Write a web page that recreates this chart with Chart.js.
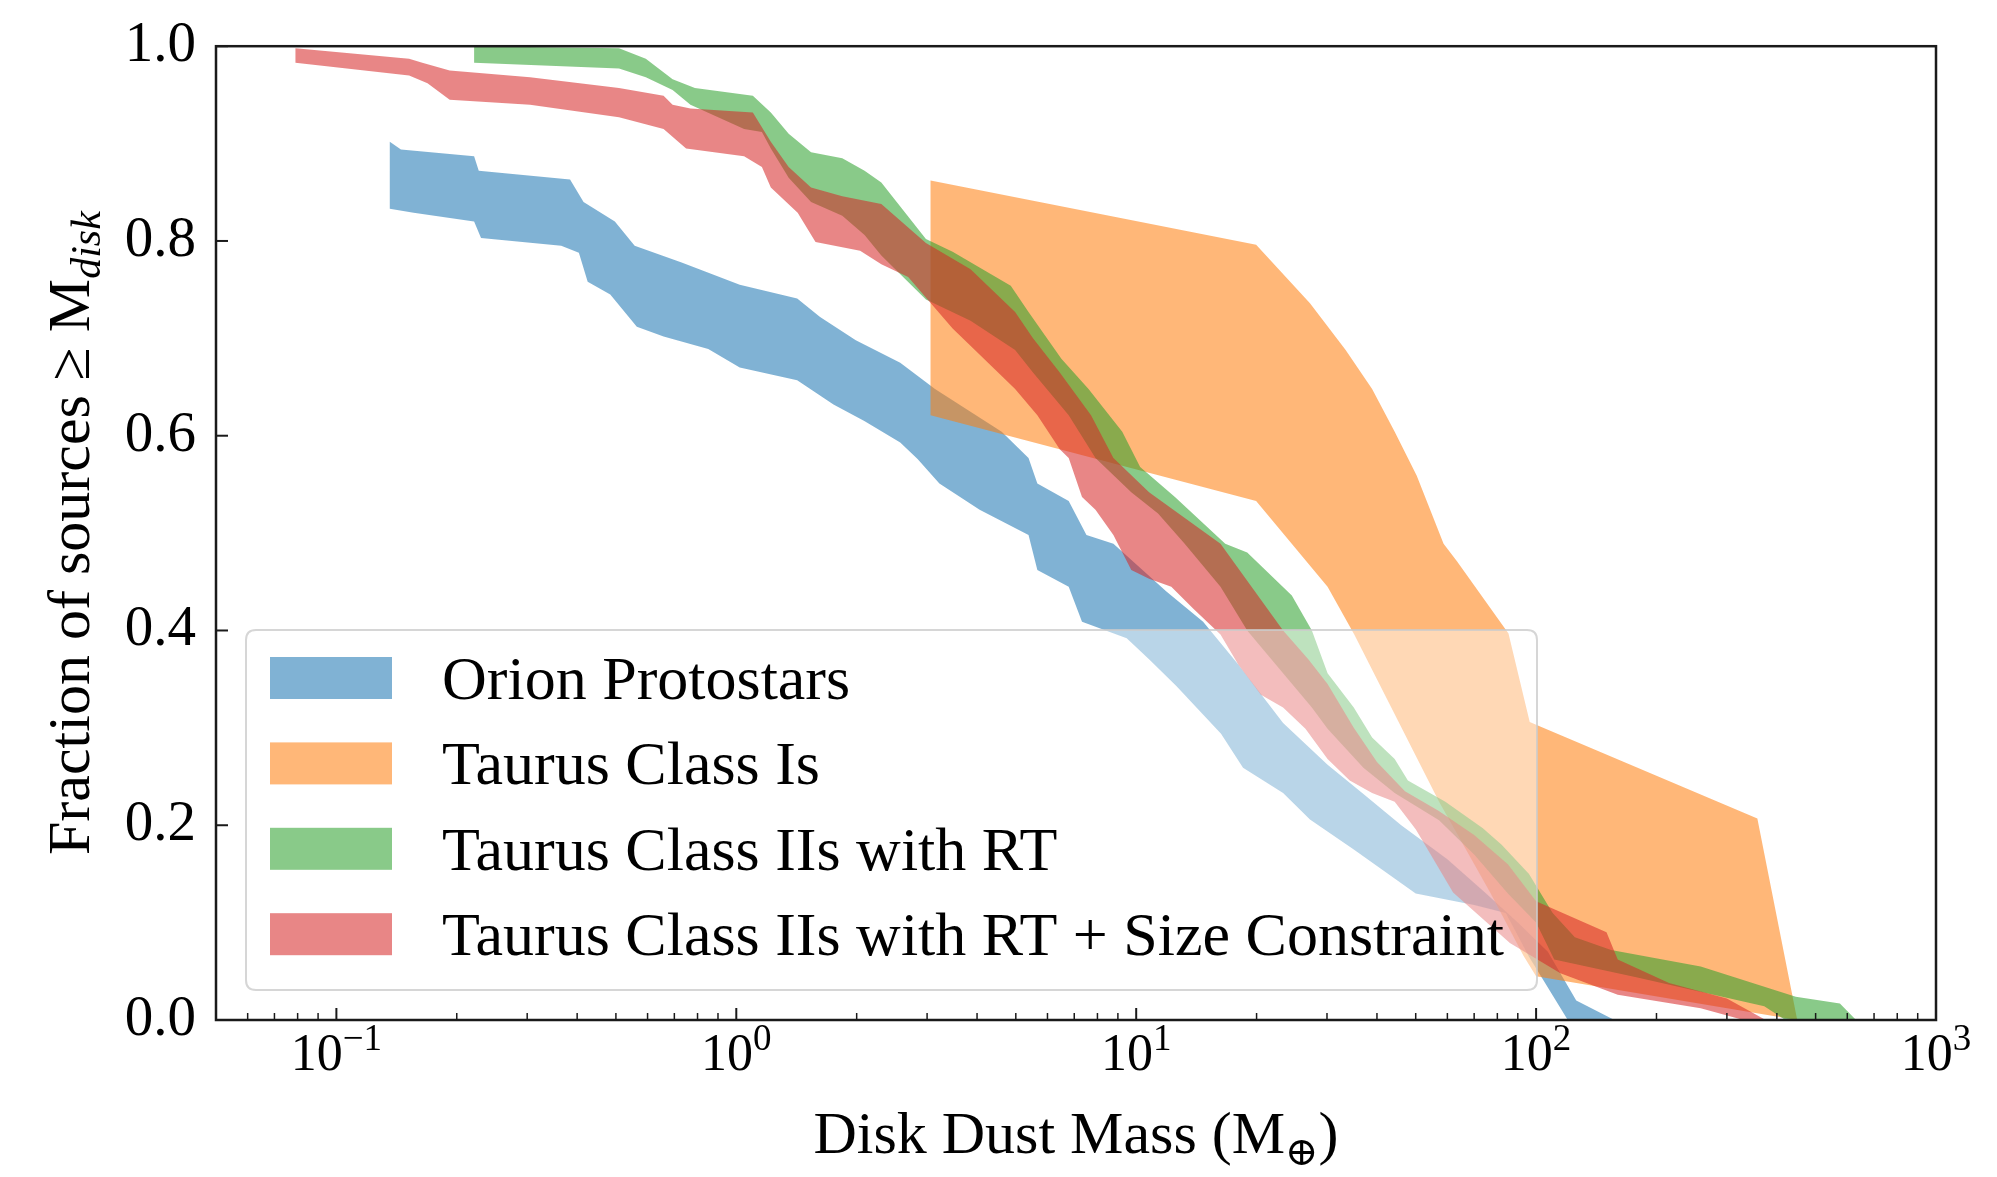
<!DOCTYPE html>
<html>
<head>
<meta charset="utf-8">
<title>Disk dust mass distributions</title>
<script src="https://cdn.jsdelivr.net/npm/chart.js@4.4.1/dist/chart.umd.min.js"></script>
<style>
  html, body { margin: 0; padding: 0; background: #fff; }
  #wrap { width: 1997px; height: 1177px; position: relative; }
</style>
</head>
<body>
<div id="wrap"><canvas id="mass-chart"></canvas></div>
<script>
/* ============================================
   Cumulative disk dust mass distributions
   ============================================ */

const SERIF = '"Liberation Serif", "DejaVu Serif", serif';

// Each band is an envelope: [mass (M_earth), fraction >= mass]
const orionUpper = [
  [0.136, 0.902], [0.145, 0.894], [0.221, 0.887], [0.227, 0.872], [0.384, 0.863], [0.415, 0.840],
  [0.497, 0.820], [0.557, 0.795], [0.730, 0.778], [1.02, 0.755], [1.42, 0.741], [1.62, 0.722],
  [1.99, 0.698], [2.57, 0.675], [3.14, 0.648], [4.61, 0.604], [5.38, 0.577], [5.66, 0.551],
  [6.78, 0.533], [7.51, 0.498], [8.77, 0.489], [11.9, 0.440], [14.7, 0.409], [18.0, 0.365],
  [23.3, 0.305], [30.1, 0.262], [37.0, 0.232], [46.0, 0.200], [60.0, 0.165], [75.0, 0.130],
  [90.0, 0.100], [107, 0.070], [126, 0.020], [157, 0.0]
];
const orionLower = [
  [0.136, 0.833], [0.156, 0.829], [0.221, 0.820], [0.230, 0.803], [0.365, 0.795], [0.404, 0.788],
  [0.425, 0.758], [0.484, 0.745], [0.564, 0.712], [0.658, 0.702], [0.851, 0.689], [1.02, 0.670],
  [1.42, 0.657], [1.75, 0.632], [2.09, 0.615], [2.57, 0.593], [2.84, 0.576], [3.22, 0.551],
  [4.06, 0.524], [5.38, 0.498], [5.66, 0.462], [6.78, 0.445], [7.32, 0.409], [9.47, 0.392],
  [10.8, 0.370], [12.6, 0.343], [16.3, 0.294], [18.5, 0.259], [23.3, 0.233], [27.2, 0.206],
  [35.0, 0.175], [50.0, 0.130], [70.0, 0.118], [84.0, 0.110], [96.0, 0.065], [120, 0.0]
];

const classIUpper = [
  [3.06, 0.862], [19.95, 0.796], [27.2, 0.736], [33.4, 0.688], [38.9, 0.648], [44.3, 0.604],
  [50.3, 0.559], [58.7, 0.489], [63.4, 0.471], [85.3, 0.397], [96.4, 0.306], [101.7, 0.302],
  [357.5, 0.207], [449.8, 0.0]
];
const classILower = [
  [3.06, 0.621], [19.95, 0.533], [30.1, 0.445], [35.1, 0.396], [57.2, 0.224], [77.0, 0.130],
  [93.0, 0.066], [100, 0.045], [449.8, 0.0]
];

const classIIUpper = [
  [0.221, 1.0], [0.509, 0.998], [0.594, 0.987], [0.693, 0.966], [0.788, 0.957], [1.10, 0.949],
  [1.22, 0.932], [1.352, 0.910], [1.538, 0.891], [1.841, 0.885], [2.093, 0.872], [2.305, 0.860],
  [2.98, 0.802], [3.475, 0.789], [4.857, 0.754], [5.38, 0.727], [6.5, 0.679], [7.6, 0.648],
  [9.23, 0.604], [10.23, 0.568], [12.5, 0.537], [16.7, 0.489], [18.95, 0.480], [24.5, 0.436],
  [27.5, 0.400], [30.1, 0.356], [35.0, 0.321], [38.9, 0.290], [44.3, 0.268], [47.8, 0.246],
  [59.3, 0.224], [73.6, 0.197], [82.0, 0.180], [96.0, 0.150], [110, 0.110], [125, 0.085],
  [154, 0.072], [258, 0.055], [446, 0.024], [575, 0.017], [631, 0.0]
];
const classIILower = [
  [0.221, 0.983], [0.509, 0.977], [0.594, 0.968], [0.693, 0.955], [0.768, 0.940], [1.046, 0.915],
  [1.159, 0.912], [1.22, 0.895], [1.352, 0.865], [1.538, 0.840], [1.841, 0.826], [2.093, 0.806],
  [2.305, 0.785], [2.98, 0.740], [3.853, 0.718], [4.98, 0.688], [5.52, 0.665], [6.78, 0.621],
  [7.91, 0.577], [9.72, 0.542], [11.34, 0.520], [13.22, 0.489], [16.25, 0.445], [18.95, 0.400],
  [23.3, 0.356], [27.5, 0.321], [30.1, 0.299], [37.0, 0.259], [44.3, 0.233], [57.2, 0.205],
  [70.0, 0.170], [85.0, 0.130], [100, 0.100], [111, 0.062], [178, 0.044], [372, 0.014], [420, 0.0]
];

const sizeCutUpper = [
  [0.079, 0.998], [0.152, 0.987], [0.164, 0.983], [0.192, 0.975], [0.305, 0.968], [0.509, 0.957],
  [0.658, 0.949], [0.693, 0.940], [0.768, 0.936], [1.10, 0.932], [1.22, 0.902], [1.352, 0.876],
  [1.538, 0.855], [1.841, 0.846], [2.305, 0.838], [2.98, 0.798], [3.853, 0.771], [4.98, 0.727],
  [5.52, 0.700], [6.44, 0.665], [7.71, 0.621], [8.77, 0.577], [10.77, 0.542], [16.25, 0.489],
  [23.3, 0.400], [27.0, 0.370], [30.1, 0.345], [35.0, 0.300], [40.0, 0.265], [47.0, 0.235],
  [57.0, 0.215], [70.0, 0.190], [85.0, 0.160], [100, 0.122], [150, 0.090], [160, 0.062],
  [215, 0.038], [300, 0.022], [375, 0.0]
];
const sizeCutLower = [
  [0.079, 0.983], [0.152, 0.970], [0.169, 0.962], [0.192, 0.945], [0.305, 0.940], [0.509, 0.927],
  [0.658, 0.915], [0.749, 0.895], [1.046, 0.887], [1.159, 0.876], [1.22, 0.855], [1.424, 0.829],
  [1.578, 0.799], [2.04, 0.790], [2.305, 0.776], [2.69, 0.763], [3.475, 0.710], [3.95, 0.688],
  [4.98, 0.648], [5.66, 0.621], [6.44, 0.586], [6.78, 0.577], [7.32, 0.537], [7.91, 0.524],
  [8.77, 0.498], [9.72, 0.462], [10.77, 0.453], [12.24, 0.445], [13.92, 0.422], [16.25, 0.396],
  [18.0, 0.365], [20.5, 0.334], [23.3, 0.321], [26.5, 0.299], [30.1, 0.268], [34.2, 0.246],
  [38.9, 0.233], [44.3, 0.224], [50.0, 0.196], [62.0, 0.131], [86.0, 0.079], [115, 0.048],
  [160, 0.026], [258, 0.012], [330, 0.0]
];

const seriesLabels = [
  'Orion Protostars',
  'Taurus Class Is',
  'Taurus Class IIs with RT',
  'Taurus Class IIs with RT + Size Constraint'
];
const massRange = [0.05, 1000];
const fractionTicks = [0.0, 0.2, 0.4, 0.6, 0.8, 1.0];

const COLORS = {
  blue: 'rgba(31, 119, 180, 0.57)',
  orange: 'rgba(255, 127, 14, 0.56)',
  green: 'rgba(44, 160, 44, 0.56)',
  red: 'rgba(214, 39, 40, 0.56)'
};

/* ------------------------------------------
   Helpers
   ------------------------------------------ */

// closed polygon: upper envelope left->right, lower envelope back
function band(label, color, upper, lower, order) {
  const pts = upper.concat(lower.slice().reverse()).map(([x, y]) => ({ x, y }));
  return {
    label,
    data: pts,
    backgroundColor: color,
    borderColor: 'transparent',
    borderWidth: 0,
    pointRadius: 0,
    pointHoverRadius: 0,
    tension: 0,
    fill: 'shape',
    order
  };
}

// text runs with sizes / offsets, centred on x
function richText(ctx, parts, x, y) {
  let total = 0;
  parts.forEach(p => {
    ctx.font = `${p.style || ''} ${p.size}px ${SERIF}`;
    p.w = ctx.measureText(p.text).width;
    total += p.w;
  });
  let cx = x - total / 2;
  parts.forEach(p => {
    ctx.font = `${p.style || ''} ${p.size}px ${SERIF}`;
    ctx.fillText(p.text, cx, y + (p.dy || 0));
    cx += p.w;
  });
}

function roundRectPath(ctx, x0, y0, x1, y1, r) {
  ctx.beginPath();
  ctx.moveTo(x0 + r, y0);
  ctx.lineTo(x1 - r, y0);
  ctx.quadraticCurveTo(x1, y0, x1, y0 + r);
  ctx.lineTo(x1, y1 - r);
  ctx.quadraticCurveTo(x1, y1, x1 - r, y1);
  ctx.lineTo(x0 + r, y1);
  ctx.quadraticCurveTo(x0, y1, x0, y1 - r);
  ctx.lineTo(x0, y0 + r);
  ctx.quadraticCurveTo(x0, y0, x0 + r, y0);
  ctx.closePath();
}

/* ------------------------------------------
   Legend, frame, inward ticks, labels
   ------------------------------------------ */
const axisDecor = {
  id: 'axisDecor',
  afterDraw(chart) {
    const { ctx, chartArea: a, scales: { x, y } } = chart;
    ctx.save();

    // legend box sits over the bands (semi-transparent)
    roundRectPath(ctx, 246, 630, 1537, 990, 10);
    ctx.fillStyle = 'rgba(255, 255, 255, 0.45)';
    ctx.fill();
    ctx.lineWidth = 2;
    ctx.strokeStyle = 'rgba(204, 204, 204, 0.8)';
    ctx.stroke();

    ctx.textAlign = 'left';
    ctx.textBaseline = 'alphabetic';
    chart.data.datasets.forEach((ds, i) => {
      const cy = 678 + i * 85.4;
      ctx.fillStyle = '#fff';
      ctx.fillRect(270, cy - 21, 122, 42);
      ctx.fillStyle = ds.backgroundColor;
      ctx.fillRect(270, cy - 21, 122, 42);
      ctx.fillStyle = '#000';
      ctx.font = `62px ${SERIF}`;
      ctx.fillText(ds.label, 442, cy + 21);
    });

    // frame
    ctx.strokeStyle = '#1a1a1a';
    ctx.lineWidth = 2.5;
    ctx.strokeRect(a.left, a.top, a.right - a.left, a.bottom - a.top);

    // inward ticks
    const tick = (x0, y0, x1, y1, w) => {
      ctx.lineWidth = w;
      ctx.beginPath();
      ctx.moveTo(x0, y0);
      ctx.lineTo(x1, y1);
      ctx.stroke();
    };
    fractionTicks.forEach(v => {
      const py = y.getPixelForValue(v);
      tick(a.left, py, a.left + 12, py, 2);
    });

    const kLo = Math.floor(Math.log10(massRange[0]));
    const kHi = Math.ceil(Math.log10(massRange[1]));
    for (let k = kLo; k <= kHi; k++) {
      for (let m = 1; m <= 9; m++) {
        const v = m * Math.pow(10, k);
        if (v < massRange[0] * 0.999 || v > massRange[1] * 1.001) continue;
        const px = x.getPixelForValue(v);
        if (m === 1) tick(px, a.bottom, px, a.bottom - 12, 2);
        else tick(px, a.bottom, px, a.bottom - 7, 1.5);
      }
    }

    // decade labels 10^k
    ctx.fillStyle = '#000';
    for (let k = kLo; k <= kHi; k++) {
      const v = Math.pow(10, k);
      if (v < massRange[0] || v > massRange[1] * 1.001) continue;
      const exp = k < 0 ? '\u2212' + (-k) : String(k);
      richText(ctx, [
        { text: '10', size: 52 },
        { text: exp, size: 37, dy: -20 }
      ], x.getPixelForValue(v), a.bottom + 50);
    }

    // axis titles
    richText(ctx, [
      { text: 'Disk Dust Mass (M', size: 60 },
      { text: '\u2295', size: 40, dy: 12 },
      { text: ')', size: 60 }
    ], (a.left + a.right) / 2, 1153);

    ctx.translate(89, (a.top + a.bottom) / 2);
    ctx.rotate(-Math.PI / 2);
    richText(ctx, [
      { text: 'Fraction of sources \u2265 M', size: 60 },
      { text: 'disk', size: 42, style: 'italic', dy: 11 }
    ], 0, 0);

    ctx.restore();
  }
};

/* ------------------------------------------
   Chart
   ------------------------------------------ */
new Chart(document.getElementById('mass-chart'), {
  type: 'line',
  data: {
    datasets: [
      band(seriesLabels[0], COLORS.blue, orionUpper, orionLower, 4),
      band(seriesLabels[1], COLORS.orange, classIUpper, classILower, 3),
      band(seriesLabels[2], COLORS.green, classIIUpper, classIILower, 2),
      band(seriesLabels[3], COLORS.red, sizeCutUpper, sizeCutLower, 1)
    ]
  },
  options: {
    responsive: true,
    maintainAspectRatio: false,
    devicePixelRatio: 1,
    animation: false,
    layout: { padding: { top: 38, right: 61, left: 0, bottom: 0 } },
    plugins: {
      legend: { display: false },
      tooltip: { enabled: false }
    },
    scales: {
      x: {
        type: 'logarithmic',
        min: massRange[0],
        max: massRange[1],
        grid: { display: false },
        border: { display: false },
        ticks: { display: false },
        afterFit: s => { s.height = 157; }
      },
      y: {
        type: 'linear',
        min: 0,
        max: 1,
        grid: { display: false },
        border: { display: false },
        afterBuildTicks: s => { s.ticks = fractionTicks.map(v => ({ value: v })); },
        ticks: {
          color: '#000',
          padding: 12,
          font: { family: SERIF, size: 57 },
          callback: v => v.toFixed(1)
        },
        afterFit: s => { s.width = 216; }
      }
    }
  },
  plugins: [axisDecor]
});
</script>
</body>
</html>
